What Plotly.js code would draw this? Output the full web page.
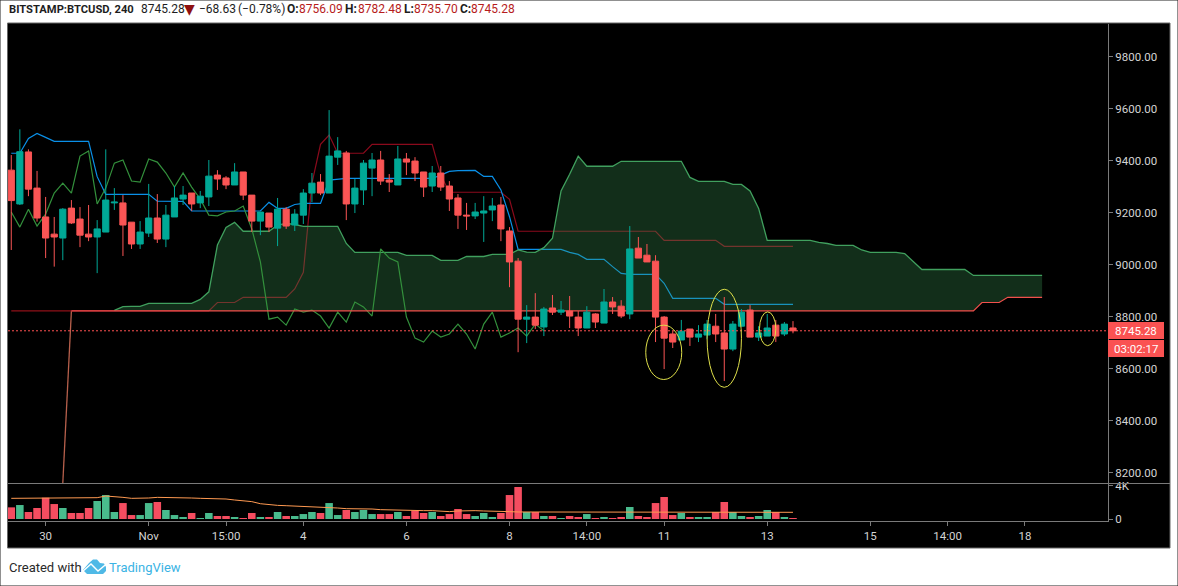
<!DOCTYPE html>
<html>
<head>
<meta charset="utf-8">
<script src="https://cdn.plot.ly/plotly-3.0.1.min.js"></script>
<style>html,body{margin:0;padding:0;background:#fff;overflow:hidden}#chart{width:1178px;height:586px}</style>
</head>
<body>
<div id="chart"></div>
<script>
// ---- candles (4h bars, index 0 .. 91) ----
var openPrices = [
9363,9233,9433,9294,9183,9117,9102,9217,9175,9117,
9106,9125,9237,9237,9163,9079,9121,9179,9098,9183,
9252,9275,9237,9260,9344,9333,9306,9356,9267,9167,
9198,9140,9213,9152,9190,9275,9317,9275,9413,9429,
9233,9287,9371,9402,9325,9306,9406,9398,9356,9302,
9352,9302,9256,9190,9187,9198,9210,9229,9129,9013,
8790,8798,8760,8833,8817,8821,8798,8756,8810,8775,
8856,8840,8810,9063,9036,9013,8798,8733,8710,8752,
8721,8729,8763,8737,8675,8763,8825,8721,8725,8767,
8733,8756.09];
var highPrices = [
9421,9520,9443,9360,9260,9183,9217,9248,9221,9229,
9171,9443,9294,9267,9163,9167,9310,9271,9229,9302,
9302,9275,9283,9402,9363,9340,9390,9356,9267,9202,
9198,9256,9221,9213,9290,9352,9348,9594,9490,9437,
9329,9402,9429,9437,9348,9456,9429,9413,9356,9379,
9379,9321,9271,9237,9237,9263,9256,9260,9144,9025,
8844,8890,8837,8883,8860,8879,8821,8840,8813,8906,
8875,8863,9148,9106,9079,9036,8802,8744,8787,8752,
8767,8787,8810,8875,8783,8829,8844,8763,8810,8787,
8779,8782.48];
var lowPrices = [
9056,9229,9263,9165,9025,8992,9017,9156,9067,9090,
8967,9125,9210,9033,9060,9060,9106,9083,9067,9183,
9229,9206,9217,9225,9287,9290,9306,9248,9125,9113,
9125,9071,9137,9129,9156,9240,9267,9275,9383,9171,
9198,9229,9263,9306,9279,9306,9344,9321,9260,9279,
9283,9206,9137,9133,9175,9087,9167,9090,8913,8663,
8698,8752,8725,8806,8806,8756,8725,8756,8756,8775,
8810,8794,8790,9025,9010,8702,8598,8679,8710,8687,
8702,8713,8702,8552,8667,8763,8721,8706,8725,8702,
8725,8735.70];
var closePrices = [
9246,9434,9290,9179,9102,9106,9213,9160,9113,9106,
9137,9248,9240,9152,9079,9125,9179,9098,9190,9256,
9267,9233,9263,9340,9329,9306,9356,9267,9167,9202,
9144,9213,9148,9194,9275,9313,9275,9417,9437,9233,
9294,9390,9402,9321,9317,9406,9394,9352,9298,9352,
9298,9252,9190,9187,9202,9206,9225,9137,9010,8790,
8798,8767,8829,8817,8825,8802,8756,8817,8779,8856,
8837,8802,9060,9025,9010,8798,8717,8702,8744,8721,
8733,8771,8733,8675,8771,8817,8721,8737,8756,8725,
8771,8745.28];
// ---- volume, index 0 .. 91 ----
var volumes = [
1410,1690,850,1330,2580,1810,1330,730,730,1330,
2180,2900,850,1930,480,480,1930,2060,1090,480,
240,730,120,730,360,360,240,120,730,240,
240,850,360,360,600,850,730,1930,480,1090,
850,1090,600,600,600,850,360,1010,730,850,
360,600,1210,600,360,730,240,730,2900,3870,
850,850,360,360,120,360,240,600,120,240,
120,240,1450,360,240,1930,2660,480,730,240,
240,240,850,2060,850,360,240,360,1090,850,
240,120];
var volumeMA = [
2500,2500,2500,2500,2580,2580,2580,2580,2580,2580,
2580,2780,2740,2620,2500,2500,2540,2620,2620,2620,
2580,2540,2500,2500,2500,2420,2300,2220,2100,1850,
1730,1650,1610,1570,1530,1530,1490,1410,1330,1250,
1250,1250,1210,1130,1090,1090,1050,1050,1010,1010,
930,890,970,1010,1010,970,970,970,890,850,
850,850,850,850,850,850,850,850,850,850,
850,850,850,850,850,850,850,850,850,850,
850,850,810,810,810,810,810,810,810,810,
810,810];
// ---- ichimoku ----
var conversionLine = [
9428,9428,9485,9504,9489,9474,9474,9474,9474,9474,
9338,9270,9270,9270,9270,9270,9270,9244,9243,9243,
9243,9206,9206,9206,9206,9206,9206,9206,9206,9206,
9239,9216,9216,9231,9235,9235,9235,9325,9329,9331,
9331,9331,9331,9331,9331,9331,9331,9331,9331,9331,
9344,9358,9361,9362,9362,9339,9339,9287,9184,9058,
9058,9058,9058,9058,9058,9047,9039,9020,9020,9020,
8992,8966,8962,8962,8962,8962,8928,8870,8870,8870,
8870,8870,8870,8847,8847,8847,8847,8847,8847,8847,
8847,8847];
var baseLineStart = 6;
var baseLine = [
8160,8822,8822,8822,
8822,8822,8822,8822,8822,8822,8822,8822,8822,8822,
8822,8822,8822,8822,8854,8854,8854,8874,8874,8874,
8874,8874,8874,8906,8970,9312,9462,9498,9428,9428,
9428,9428,9462,9462,9462,9462,9462,9462,9462,9462,
9344,9278,9278,9278,9278,9278,9278,9278,9251,9128,
9128,9128,9128,9128,9128,9128,9128,9128,9128,9128,
9128,9128,9128,9128,9128,9128,9093,9093,9093,9093,
9093,9093,9093,9070,9070,9070,9070,9070,9070,9070,
9070,9070];
var laggingSpan = [
9202,9144,9213,9148,9194,9275,9313,9275,9417,9437,
9233,9294,9390,9402,9321,9317,9406,9394,9352,9298,
9352,9298,9252,9190,9187,9202,9206,9225,9137,9010,
8790,8798,8767,8829,8817,8825,8802,8756,8817,8779,
8856,8837,8802,9060,9025,9010,8798,8717,8702,8744,
8721,8733,8771,8733,8675,8771,8817,8721,8737,8756,
8725,8771,8745];
var spanAStart = 12;
var spanA = [
8824,8838,8839,8839,8851,8851,8851,8851,
8851,8851,8866,8895,9075,9143,9162,9128,9128,9128,
9128,9152,9158,9154,9147,9147,9147,9147,9147,9081,
9047,9047,9047,9047,9047,9047,9035,9035,9035,9035,
9016,9016,9016,9031,9031,9031,9039,9039,9039,9056,
9048,9047,9065,9101,9283,9347,9417,9378,9378,9378,
9378,9397,9397,9397,9397,9397,9397,9397,9397,9335,
9320,9320,9320,9320,9308,9308,9283,9216,9093,9093,
9093,9093,9093,9093,9085,9081,9074,9074,9074,9056,
9047,9047,9047,9047,9042,9012,8981,8981,8981,8981,
8981,8981,8958,8958,8958,8958,8958,8958,8958,8958,8958];
var spanBEarly = [8822,8822,8822,8822,8822,8822,8822,8822];
var spanBStart = 7;
var spanB = [
8822,8822,8822,8822,8822,8822,8822,8822,8822,8822,
8822,8822,8822,8822,8822,8822,8822,8822,8822,8822,
8822,8822,8822,8822,8822,8822,8822,8822,8822,8822,
8822,8822,8822,8822,8822,8822,8822,8822,8822,8822,
8822,8822,8822,8822,8822,8822,8822,8822,8822,8822,
8822,8822,8822,8822,8822,8822,8822,8822,8822,8822,
8822,8822,8822,8822,8822,8822,8822,8822,8822,8822,
8822,8822,8822,8822,8822,8822,8822,8822,8822,8822,
8822,8822,8822,8822,8822,8822,8822,8822,8822,8822,
8822,8822,8822,8822,8822,8822,8822,8822,8822,8822,
8822,8822,8822,8822,8822,8822,
8854,8854,8854,8874,8874,8874,8874,8874];
// ---- axes ----
var priceTicks = [8200,8400,8600,8800,9000,9200,9400,9600,9800];
var timeTickBars = [4,16,25,34,46,58,67,76,88,100,109,118];
var timeTickLabels = ['30','Nov','15:00','4','6','8','14:00','11','13','15','14:00','18'];
var lastPrice = 8745.28;
var countdown = '03:02:17';

function seq(start, arr){ return arr.map(function(_, i){ return start + i; }); }
var W = 1178, H = 586;
function px(x){ return x / W; }
function py(y){ return 1 - y / H; }
var face = 'Roboto, sans-serif';
var bars = seq(0, closePrices);
var UP='#00a896', DOWN='#fa5555', VUP='#49bb8d', VDOWN='#f54d60';
var volColors = closePrices.map(function(c,i){ return c >= openPrices[i] ? VUP : VDOWN; });

function line(name,x,y,color,w,extra){
  var t = {type:'scatter',mode:'lines',name:name,x:x,y:y,line:{color:color,width:w||1},hoverinfo:'skip'};
  for (var k in (extra||{})) t[k]=extra[k];
  return t;
}
var spanBForFill = spanB.slice(spanAStart - spanBStart);
var baseRise = baseLine.slice(0,2);
var baseRest = baseLine.slice(1);
var traces = [
  line('Base line rise', seq(baseLineStart, baseRise), baseRise, '#b8604c', 1.3),
  line('Base line', seq(baseLineStart+1, baseRest), baseRest, '#8b0a1c', 1.2),
  line('Conversion line', bars, conversionLine, '#0a90e8', 1.2),
  line('Span B early', seq(0, spanBEarly), spanBEarly, '#8f1018', 1.2),
  line('Cloud base', seq(spanAStart, spanBForFill), spanBForFill, 'rgba(0,0,0,0)', 0),
  line('Lead span A', seq(spanAStart, spanA), spanA, '#40a05e', 1.3,
       {fill:'tonexty', fillcolor:'rgba(60,153,87,0.30)'}),
  line('Lagging span', seq(0, laggingSpan), laggingSpan, '#33903c', 1.2),
  line('Lead span B', seq(spanBStart, spanB), spanB, '#f2504c', 1.2),
  {type:'candlestick',name:'BTCUSD',x:bars,open:openPrices,high:highPrices,low:lowPrices,close:closePrices,
   yaxis:'y3',whiskerwidth:0,hoverinfo:'skip',
   increasing:{line:{color:UP,width:1},fillcolor:UP},
   decreasing:{line:{color:DOWN,width:1},fillcolor:DOWN}},
  {type:'bar',name:'Volume',x:bars,y:volumes,yaxis:'y2',marker:{color:volColors,line:{width:0}},hoverinfo:'skip'},
  line('Volume MA', bars, volumeMA, '#ff9a52', 1, {yaxis:'y2'})
];

var priceRange = [8160, 9925];
var axisGray = '#7a7a7a', tickFont = {family:face,size:11.5,color:'#d4d4d4'};
function txt(text,x,y,opts){
  var a = {text:text,xref:'paper',yref:'paper',x:px(x),y:py(y),xanchor:'left',yanchor:'middle',showarrow:false,
           font:{family:face,size:12,color:'#1d1d1d'}};
  for (var k in (opts||{})) a[k]=opts[k];
  return a;
}
var red = '#b71c1c';
var redFont = {family:face,size:12,color:red};
var annotations = [
  txt('<b>BITSTAMP:BTCUSD, 240</b>',7,9.5,{font:{family:face,size:11.2,color:'#1d1d1d'}}),
  txt('8745.28',139,9.5),
  txt('▼',181.5,9.5,{font:{family:'"DejaVu Sans", sans-serif',size:14,color:'#8e1010'}}),
  txt('−68.63',197,9.5),
  txt('(−0.78%)',236,9.5),
  txt('<b>O:</b>',285,9.5), txt('8756.09',297,9.5,{font:redFont}),
  txt('<b>H:</b>',343,9.5), txt('8782.48',356,9.5,{font:redFont}),
  txt('<b>L:</b>',402,9.5), txt('8735.70',412,9.5,{font:redFont}),
  txt('<b>C:</b>',458,9.5), txt('8745.28',469,9.5,{font:redFont}),
  txt(lastPrice.toFixed(2),1136,330.5,{xanchor:'center',font:{family:face,size:11.5,color:'#ffffff'}}),
  txt(countdown,1136,348.5,{xanchor:'center',font:{family:face,size:11.5,color:'#ffffff'}}),
  txt('Created with',7,567,{font:{family:face,size:13,color:'#2a2a2a'}}),
  txt('TradingView',107,567,{font:{family:face,size:13,color:'#3bb3e4'}})
];
function pathOf(pts,close){
  return pts.map(function(p,i){ return (i?'L':'M')+px(p[0])+','+py(p[1]); }).join(' ')+(close?' Z':'');
}
var yellow = '#dfe04a';
function ellipse(x0,x1,y0,y1){
  return {type:'circle',xref:'x',yref:'y',x0:x0,x1:x1,y0:y0,y1:y1,line:{color:yellow,width:1},layer:'above'};
}
var shapes = [
  {type:'rect',xref:'paper',yref:'paper',x0:px(7.5),x1:px(1170),y0:py(548),y1:py(23),
   fillcolor:'#000',line:{color:'#666',width:1},layer:'below'},
  {type:'rect',xref:'paper',yref:'paper',x0:0,x1:1,y0:0,y1:1,fillcolor:'rgba(0,0,0,0)',line:{color:'#222',width:1},layer:'below'},
  {type:'line',xref:'paper',yref:'paper',x0:px(8),x1:px(1170),y0:py(483.5),y1:py(483.5),line:{color:axisGray,width:1},layer:'above'},
  {type:'line',xref:'paper',yref:'y',x0:px(8),x1:px(1108),y0:lastPrice,y1:lastPrice,line:{color:'#ff5252',width:1,dash:'2px,2px'},layer:'above'},
  {type:'rect',xref:'paper',yref:'paper',x0:px(1108),x1:px(1164),y0:py(339),y1:py(322),fillcolor:'#fa5252',line:{width:0},layer:'above'},
  {type:'rect',xref:'paper',yref:'paper',x0:px(1108),x1:px(1164),y0:py(357),y1:py(340),fillcolor:'#fa5252',line:{width:0},layer:'above'},
  ellipse(73.86,78.05,8558,8767),
  ellipse(81.0,85.0,8528,8905),
  ellipse(87.1,89.0,8688,8818),
  {type:'path',xref:'paper',yref:'paper',fillcolor:'#4fb9e6',line:{width:0},layer:'above',
   path:pathOf([[83,570],[89,563],[93,559.5],[97,559.5],[100,563],[104,563.5],[106,567],[106,571],[103,574],[87,574]],true)},
  {type:'path',xref:'paper',yref:'paper',line:{color:'#ffffff',width:1.4},layer:'above',
   path:pathOf([[82,572],[91,564],[98,571],[107,563.5]],false)}
];

var layout = {
  width:W,height:H,margin:{l:0,r:0,t:0,b:0,autoexpand:false},
  paper_bgcolor:'#ffffff',plot_bgcolor:'#000000',
  showlegend:false,hovermode:false,barmode:'overlay',bargap:0.12,boxgap:0.28,boxgroupgap:0,
  xaxis:{domain:[px(8),px(1108)],range:[-0.38,127.67],anchor:'y2',
    rangeslider:{visible:false},showgrid:false,zeroline:false,
    tickmode:'array',tickvals:timeTickBars,ticktext:timeTickLabels,tickfont:tickFont,
    ticks:'outside',ticklen:4,tickcolor:axisGray,showline:true,linecolor:axisGray,linewidth:1},
  yaxis:{domain:[py(483),py(24)],range:priceRange,side:'right',anchor:'x',showgrid:false,zeroline:false,
    tickmode:'array',tickvals:priceTicks,tickformat:'.2f',tickfont:tickFont,
    ticks:'outside',ticklen:4,tickcolor:axisGray,showline:true,linecolor:axisGray,linewidth:1},
  yaxis2:{domain:[py(521),py(484)],range:[-242,4235],side:'right',anchor:'x',showgrid:false,zeroline:false,
    tickmode:'array',tickvals:[0,4000],ticktext:['0','4K'],tickfont:tickFont,
    ticks:'outside',ticklen:4,tickcolor:axisGray,showline:true,linecolor:axisGray,linewidth:1},
  yaxis3:{overlaying:'y',range:priceRange,visible:false,anchor:'x',side:'left'},
  annotations:annotations,shapes:shapes
};
Plotly.newPlot('chart',traces,layout,{staticPlot:true,displayModeBar:false});
</script>
</body>
</html>
